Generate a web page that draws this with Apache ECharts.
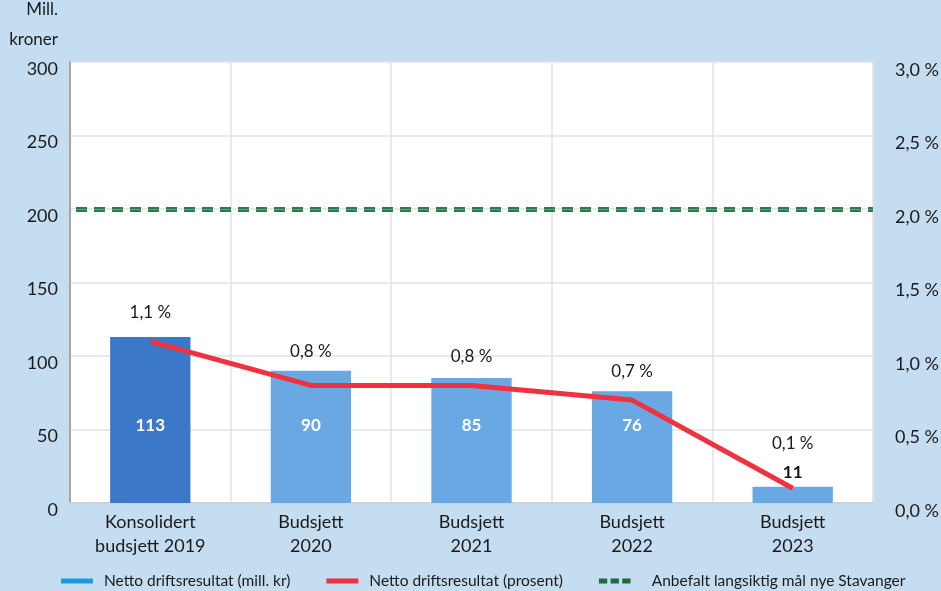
<!DOCTYPE html>
<html>
<head>
<meta charset="utf-8">
<script src="https://cdn.jsdelivr.net/npm/echarts@6/dist/echarts.min.js"></script>
<style>
  html, body { margin: 0; padding: 0; background: #c5ddf1; }
  #main { width: 941px; height: 591px; }
</style>
</head>
<body>
<div id="main"></div>
<script>
// kategorier og verdier
var categories = ['Konsolidert\nbudsjett 2019', 'Budsjett\n2020', 'Budsjett\n2021', 'Budsjett\n2022', 'Budsjett\n2023'];
var resultMill = [113, 90, 85, 76, 11];
var resultPct = [1.1, 0.8, 0.8, 0.7, 0.1];
var targetPct = 2.0;
var leftTicks = [0, 50, 100, 150, 200, 250, 300];
var rightTicks = [0, 0.5, 1.0, 1.5, 2.0, 2.5, 3.0];
var seriesNames = ['Netto driftsresultat (mill. kr)', 'Netto driftsresultat (prosent)', 'Anbefalt langsiktig mål nye Stavanger'];

var font = 'Lato, "Open Sans", sans-serif';
var textColor = '#1a1a1a';

function pct(v) {
	return v.toFixed(1).replace('.', ',') + ' %';
}

var chart = echarts.init(document.getElementById('main'));

// søyler: første søyle mørkere, små søyler får etikett over
var barData = resultMill.map(function(v, i) {
	var small = v < 30;
	return {
		value: v,
		itemStyle: { color: i === 0 ? '#3b78c8' : '#69a8e3' },
		label: small ? {
			position: 'top', distance: 6, color: '#111', fontWeight: 'bold'
		} : {
			position: 'insideBottom', distance: 69, color: '#fff', fontWeight: 'bold'
		}
	};
});

// prosent-etiketter: skyv opp der søyle-etiketten ligger over søylen
var lineData = resultPct.map(function(v, i) {
	return {
		value: v,
		label: { distance: resultMill[i] < 30 ? 36 : (i === 1 ? 25 : 20) }
	};
});

var dashPath = 'path://M0,0h10v6h-10z M14,0h10v6h-10z M28,0h10v6h-10z';

var option = {
	backgroundColor: '#c5ddf1',
	textStyle: { fontFamily: font },
	animation: false,
	grid: {
		left: 70, right: 68, top: 62, bottom: 88,
		backgroundColor: '#fff', show: true, borderWidth: 0,
		outerBoundsMode: 'none'
	},
	legend: {
		top: 568,
		left: 56,
		itemGap: 36,
		itemWidth: 32,
		itemHeight: 5,
		textStyle: { fontFamily: font, fontSize: 15.5, color: textColor, padding: [0, 0, 0, 6] },
		data: [
			{ name: seriesNames[0], icon: 'rect', itemStyle: { color: '#1a9be0' } },
			{ name: seriesNames[1], icon: 'rect', itemStyle: { color: '#ea3540' } },
			{ name: seriesNames[2], icon: dashPath, itemStyle: { color: '#1e6b42' }, textStyle: { padding: [0, 0, 0, 16] } }
		]
	},
	xAxis: {
		type: 'category',
		data: categories,
		axisLine: { lineStyle: { color: '#d2d2d2', width: 2 } },
		axisTick: { show: false },
		splitLine: { show: true, interval: 0, lineStyle: { color: '#e2e2e2', width: 1.5 } },
		axisLabel: { color: textColor, fontSize: 18, lineHeight: 24, margin: 7, interval: 0 }
	},
	yAxis: [
		{
			type: 'value',
			min: leftTicks[0],
			max: leftTicks[leftTicks.length - 1],
			interval: leftTicks[1] - leftTicks[0],
			name: 'Mill.\nkroner',
			nameLocation: 'end',
			nameGap: 7,
			nameTextStyle: { color: textColor, fontSize: 17, lineHeight: 30, align: 'right', verticalAlign: 'bottom', padding: [0, 12, 0, 0] },
			axisLine: { show: true, lineStyle: { color: '#a6a6a6', width: 2 } },
			axisTick: { show: false },
			splitLine: { lineStyle: { color: '#e2e2e2', width: 1.5 } },
			axisLabel: { color: textColor, fontSize: 18, margin: 12, verticalAlign: 'top', lineHeight: 14 }
		},
		{
			type: 'value',
			min: rightTicks[0],
			max: rightTicks[rightTicks.length - 1],
			interval: rightTicks[1] - rightTicks[0],
			position: 'right',
			axisLine: { show: true, lineStyle: { color: '#e2e2e2', width: 1.5 } },
			axisTick: { show: false },
			splitLine: { show: false },
			axisLabel: { color: textColor, fontSize: 18, margin: 22, verticalAlign: 'top', lineHeight: 16, formatter: pct }
		}
	],
	series: [
		{
			name: seriesNames[0],
			type: 'bar',
			barWidth: '50%',
			data: barData,
			label: { show: true, fontSize: 17, fontFamily: font }
		},
		{
			name: seriesNames[1],
			type: 'line',
			yAxisIndex: 1,
			data: lineData,
			symbol: 'circle',
			symbolSize: 1,
			itemStyle: { color: '#f0323f' },
			lineStyle: { color: '#f0323f', width: 5 },
			label: {
				show: true, position: 'top', fontSize: 17, color: textColor, fontFamily: font,
				formatter: function(p) { return pct(p.value); }
			},
			z: 5
		},
		{
			name: seriesNames[2],
			type: 'line',
			yAxisIndex: 1,
			data: [],
			itemStyle: { color: '#1e6b42' },
			markLine: {
				silent: true,
				symbol: 'none',
				label: { show: false },
				data: [
					{ yAxis: targetPct, lineStyle: { color: '#2a7a50', width: 5, type: [11, 7], dashOffset: -6 } },
					{ yAxis: targetPct, lineStyle: { color: '#62a27f', width: 1.2, type: [11, 7], dashOffset: -6 } }
				]
			},
			z: 4
		}
	]
};

chart.setOption(option);
</script>
</body>
</html>
